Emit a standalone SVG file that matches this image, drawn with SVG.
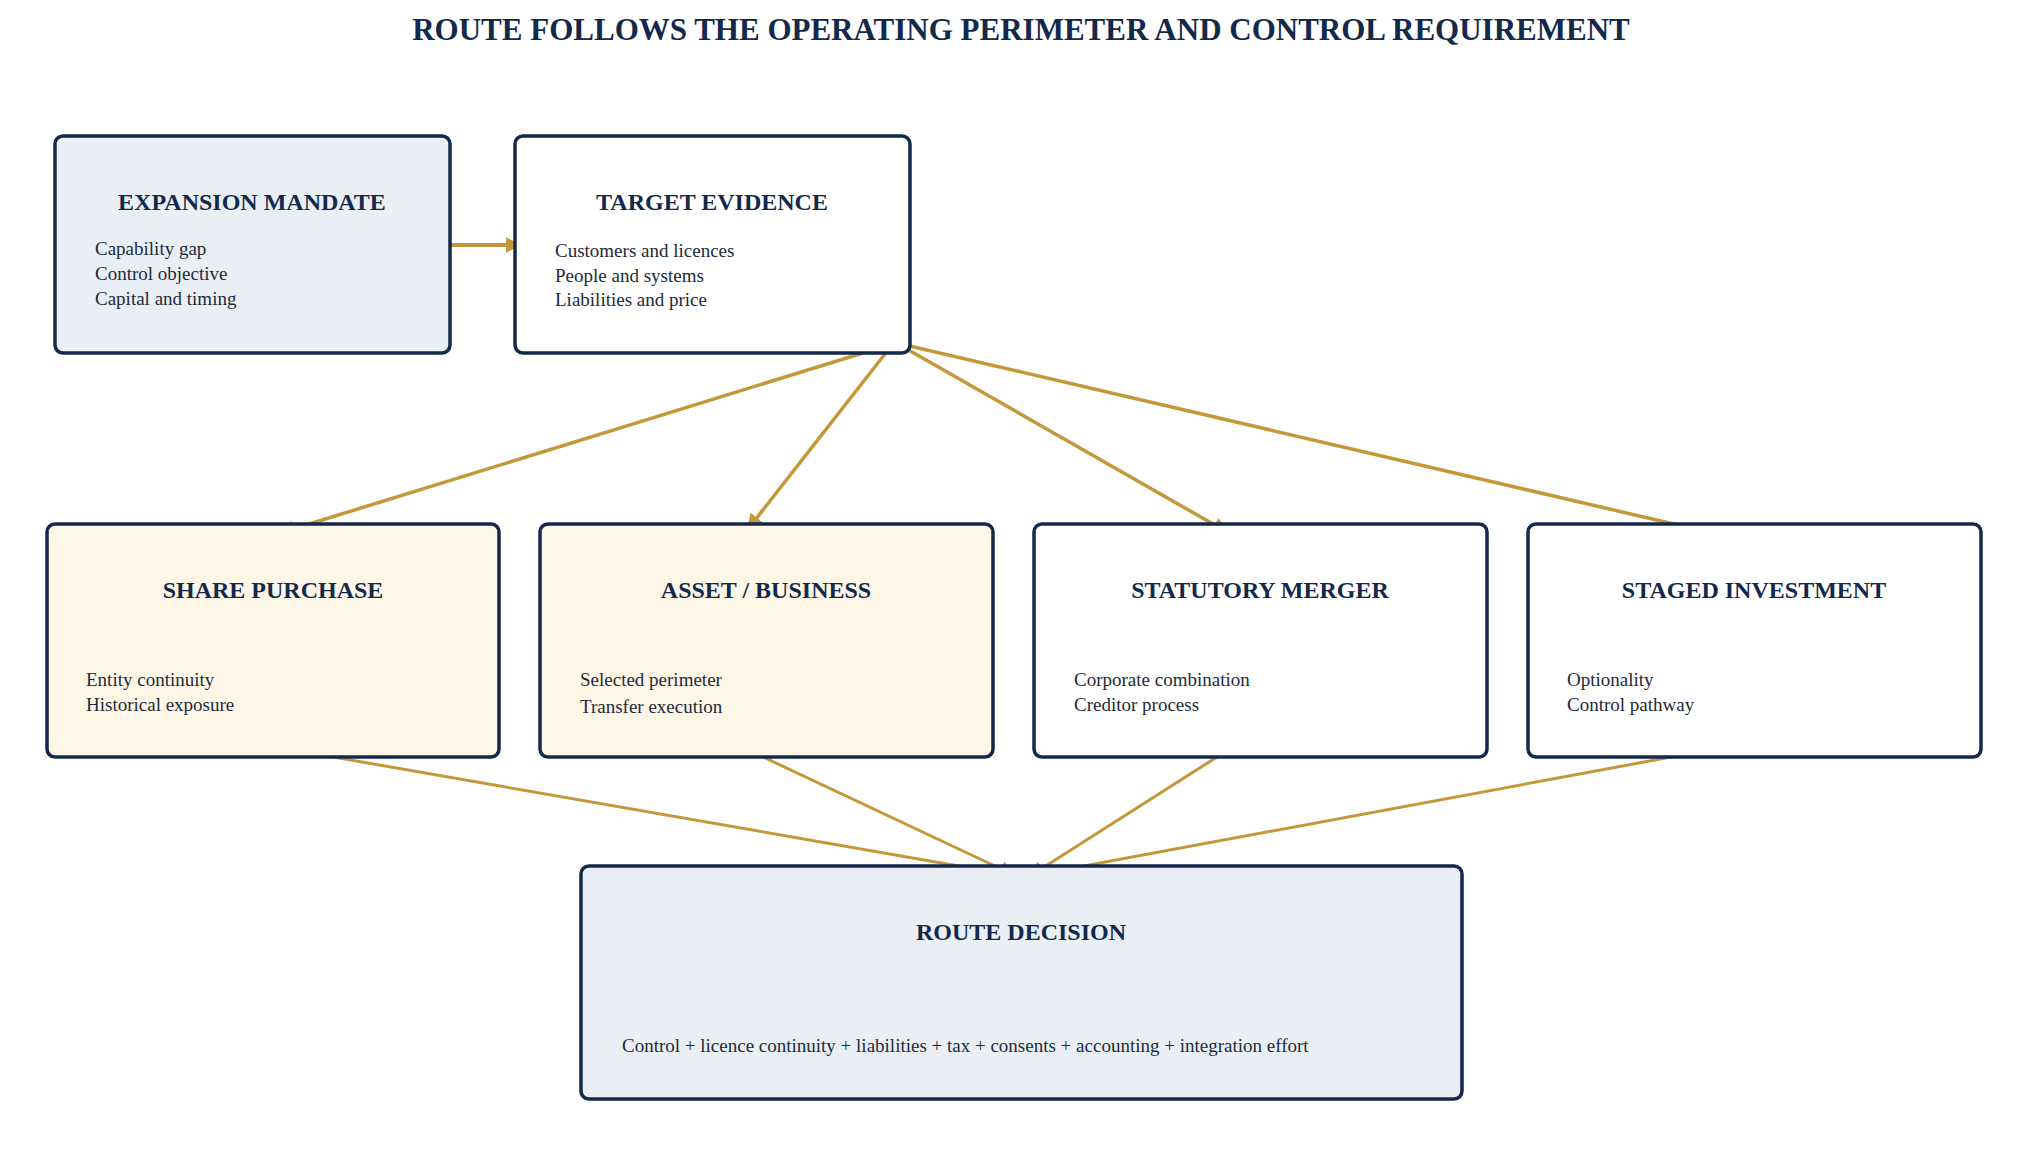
<svg xmlns="http://www.w3.org/2000/svg" width="2034" height="1170" viewBox="0 0 2034 1170">
<defs>
<marker id="ah" viewBox="0 0 10 10" refX="9" refY="5" markerWidth="16" markerHeight="16" markerUnits="userSpaceOnUse" orient="auto"><path d="M0,0 L10,5 L0,10 z" fill="#C4973A"/></marker>
<style>
.box{stroke:#13294B;stroke-width:3.5}
.t{font-family:"Liberation Serif",serif;font-weight:bold;font-size:24px;fill:#13294B;text-anchor:middle}
.b{font-family:"Liberation Serif",serif;font-size:19px;fill:#1e2a3a}
.c{stroke:#C4973A;fill:none;marker-end:url(#ah)}
</style>
</defs>
<rect width="2034" height="1170" fill="#fff"/>
<text x="1021" y="40" class="t" style="font-size:31px">ROUTE FOLLOWS THE OPERATING PERIMETER AND CONTROL REQUIREMENT</text>
<g id="connectors">
<line class="c" x1="441" y1="245" x2="520" y2="245" stroke-width="4"/>
<line class="c" x1="892" y1="344" x2="280" y2="533" stroke-width="3.5"/>
<line class="c" x1="892" y1="345" x2="748" y2="529" stroke-width="3.5"/>
<line class="c" x1="898" y1="344" x2="1227" y2="532" stroke-width="3.5"/>
<line class="c" x1="901" y1="344" x2="1721" y2="535" stroke-width="3.5"/>
<line class="c" x1="276" y1="747" x2="1016" y2="876" stroke-width="3"/>
<line class="c" x1="744" y1="748" x2="1014" y2="875" stroke-width="3"/>
<line class="c" x1="1231" y1="748" x2="1030" y2="876" stroke-width="3"/>
<line class="c" x1="1725" y1="747" x2="1030" y2="876" stroke-width="3"/>
</g>
<g id="expansion-mandate"><rect class="box" x="55" y="136" width="395" height="217" rx="8" fill="#EAEFF6"/>
<text class="t" x="252" y="210">EXPANSION MANDATE</text>
<text class="b" x="95" y="255">Capability gap</text><text class="b" x="95" y="280">Control objective</text><text class="b" x="95" y="305">Capital and timing</text></g>
<g id="target-evidence"><rect class="box" x="515" y="136" width="395" height="217" rx="8" fill="#fff"/>
<text class="t" x="712" y="210">TARGET EVIDENCE</text>
<text class="b" x="555" y="257">Customers and licences</text><text class="b" x="555" y="282">People and systems</text><text class="b" x="555" y="306">Liabilities and price</text></g>
<g id="share-purchase"><rect class="box" x="47" y="524" width="452" height="233" rx="8" fill="#FEF7E8"/>
<text class="t" x="273" y="598">SHARE PURCHASE</text>
<text class="b" x="86" y="686">Entity continuity</text><text class="b" x="86" y="711">Historical exposure</text></g>
<g id="asset-business"><rect class="box" x="540" y="524" width="453" height="233" rx="8" fill="#FEF7E8"/>
<text class="t" x="766" y="598">ASSET / BUSINESS</text>
<text class="b" x="580" y="686">Selected perimeter</text><text class="b" x="580" y="713">Transfer execution</text></g>
<g id="statutory-merger"><rect class="box" x="1034" y="524" width="453" height="233" rx="8" fill="#fff"/>
<text class="t" x="1260" y="598">STATUTORY MERGER</text>
<text class="b" x="1074" y="686">Corporate combination</text><text class="b" x="1074" y="711">Creditor process</text></g>
<g id="staged-investment"><rect class="box" x="1528" y="524" width="453" height="233" rx="8" fill="#fff"/>
<text class="t" x="1754" y="598">STAGED INVESTMENT</text>
<text class="b" x="1567" y="686">Optionality</text><text class="b" x="1567" y="711">Control pathway</text></g>
<g id="route-decision"><rect class="box" x="581" y="866" width="881" height="233" rx="8" fill="#EAEFF6"/>
<text class="t" x="1021" y="940">ROUTE DECISION</text>
<text class="b" x="622" y="1052">Control + licence continuity + liabilities + tax + consents + accounting + integration effort</text></g>
</svg>
